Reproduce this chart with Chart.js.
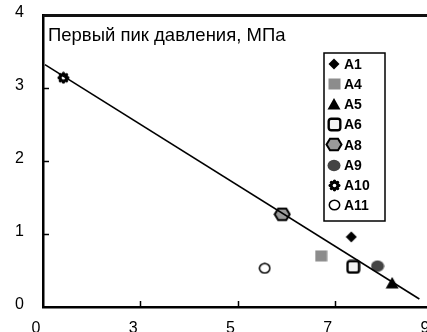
<!DOCTYPE html>
<html>
<head>
<meta charset="utf-8">
<script src="https://cdn.jsdelivr.net/npm/chart.js@4/dist/chart.umd.min.js"></script>
<style>
  html, body { margin: 0; padding: 0; background: #fff; overflow: hidden; }
</style>
</head>
<body>
<canvas id="chart" width="440" height="340"></canvas>
<script>
// data (x is in axis-position units, labels below)
const seriesNames = ['A1', 'A4', 'A5', 'A6', 'A8', 'A9', 'A10', 'A11'];
const seriesX = [3.17, 2.86, 3.59, 3.19, 2.46, 3.44, 0.21, 2.28];
const seriesY = [0.96, 0.70, 0.33, 0.55, 1.27, 0.56, 3.14, 0.53];
const trendX = [0.02, 3.87];
const trendY = [3.32, 0.11];
const xTickLabels = ['0', '3', '5', '7', '9'];
const yTickLabels = ['0', '1', '2', '3', '4'];
const chartTitle = 'Первый пик давления, МПа';

const FONT = "'Liberation Sans', Arial, sans-serif";

// little canvases used as point styles (and reused in the legend)
function marker(w, h, paint) {
  const c = document.createElement('canvas');
  c.width = w; c.height = h;
  const g = c.getContext('2d');
  paint(g, w / 2, h / 2);
  return c;
}

const markers = {
  A1: marker(12, 12, (g, x, y) => {
    g.fillStyle = '#000';
    g.beginPath();
    g.moveTo(x, y - 5.5); g.lineTo(x + 5.5, y); g.lineTo(x, y + 5.5); g.lineTo(x - 5.5, y);
    g.closePath(); g.fill();
  }),
  A4: marker(13, 12, (g, x, y) => {
    g.fillStyle = '#8c8c8c';
    g.fillRect(x - 6, y - 5.5, 12, 11);
  }),
  A5: marker(14, 12, (g, x, y) => {
    g.fillStyle = '#000';
    g.beginPath();
    g.moveTo(x, y - 6); g.lineTo(x + 6.5, y + 5.5); g.lineTo(x - 6.5, y + 5.5);
    g.closePath(); g.fill();
  }),
  A6: marker(15, 15, (g, x, y) => {
    g.fillStyle = '#f2f2f2';
    g.strokeStyle = '#000';
    g.lineWidth = 2.4;
    g.beginPath();
    g.roundRect(x - 5.8, y - 5.8, 11.6, 11.6, 2.5);
    g.fill(); g.stroke();
  }),
  A8: marker(18, 15, (g, x, y) => {
    g.fillStyle = '#9a9a9a';
    g.strokeStyle = '#000';
    g.lineWidth = 2;
    g.beginPath();
    g.moveTo(x - 7.5, y); g.lineTo(x - 4, y - 5.8); g.lineTo(x + 4, y - 5.8);
    g.lineTo(x + 7.5, y); g.lineTo(x + 4, y + 5.8); g.lineTo(x - 4, y + 5.8);
    g.closePath(); g.fill(); g.stroke();
  }),
  A9: marker(14, 13, (g, x, y) => {
    g.fillStyle = '#444';
    g.beginPath();
    g.ellipse(x, y, 6.5, 5.8, 0, 0, Math.PI * 2);
    g.fill();
  }),
  A10: marker(13, 13, (g, x, y) => {
    g.fillStyle = '#000';
    for (let i = 0; i < 8; i++) {
      const a = i * Math.PI / 4;
      g.beginPath();
      g.arc(x + Math.cos(a) * 4.3, y + Math.sin(a) * 4.3, 1.7, 0, Math.PI * 2);
      g.fill();
    }
    g.beginPath(); g.arc(x, y, 4.4, 0, Math.PI * 2); g.fill();
    g.fillStyle = '#fff';
    g.beginPath(); g.arc(x, y, 1.8, 0, Math.PI * 2); g.fill();
  }),
  A11: marker(13, 12, (g, x, y) => {
    g.fillStyle = '#fff';
    g.strokeStyle = '#000';
    g.lineWidth = 1.5;
    g.beginPath();
    g.ellipse(x, y, 5.2, 4.8, 0, 0, Math.PI * 2);
    g.fill(); g.stroke();
  })
};

const datasets = [{
  type: 'line',
  label: 'trend',
  data: trendX.map((x, i) => ({ x: x, y: trendY[i] })),
  borderColor: '#000',
  borderWidth: 1.6,
  pointRadius: 0,
  fill: false
}];
seriesNames.forEach((name, i) => {
  datasets.push({
    type: 'scatter',
    label: name,
    data: [{ x: seriesX[i], y: seriesY[i] }],
    pointStyle: markers[name],
    pointRadius: 6
  });
});

const framePlugin = {
  id: 'frame',
  afterDraw(chart) {
    const ctx = chart.ctx;
    const a = chart.chartArea;
    const xs = chart.scales.x, ys = chart.scales.y;
    ctx.save();
    // top border of the plot box
    ctx.strokeStyle = '#111';
    ctx.lineWidth = 2;
    ctx.beginPath();
    ctx.moveTo(a.left, a.top + 1); ctx.lineTo(a.right, a.top + 1);
    ctx.stroke();
    // inward tick marks
    ctx.strokeStyle = '#000';
    ctx.lineWidth = 1.5;
    for (let v = 1; v < yTickLabels.length - 1; v++) {
      const py = Math.round(ys.getPixelForValue(v)) + 0.5;
      ctx.beginPath(); ctx.moveTo(a.left, py); ctx.lineTo(a.left + 6, py); ctx.stroke();
    }
    for (let v = 1; v < xTickLabels.length - 1; v++) {
      const px = Math.round(xs.getPixelForValue(v)) + 0.5;
      ctx.beginPath(); ctx.moveTo(px, a.bottom); ctx.lineTo(px, a.bottom - 6); ctx.stroke();
    }
    // title inside the plot
    ctx.fillStyle = '#000';
    ctx.font = '18.5px ' + FONT;
    ctx.textBaseline = 'alphabetic';
    ctx.textAlign = 'left';
    ctx.fillText(chartTitle, a.left + 5, a.top + 26);
    // legend box
    const bx = 324, by = 53, bw = 61, bh = 168;
    ctx.fillStyle = '#fff';
    ctx.fillRect(bx, by, bw, bh);
    ctx.lineWidth = 1.5;
    ctx.strokeRect(bx, by, bw, bh);
    ctx.font = 'bold 14px ' + FONT;
    ctx.textBaseline = 'middle';
    ctx.fillStyle = '#000';
    seriesNames.forEach((name, i) => {
      const cy = by + 11 + i * 20.2;
      const m = markers[name];
      ctx.drawImage(m, Math.round(334 - m.width / 2), Math.round(cy - m.height / 2));
      ctx.fillText(name, 344, cy + 1);
    });
    ctx.restore();
  }
};

new Chart(document.getElementById('chart'), {
  data: { datasets: datasets },
  options: {
    responsive: false,
    animation: false,
    devicePixelRatio: 1,
    layout: { padding: { top: 15, right: 8, left: 0, bottom: 0 } },
    plugins: { legend: { display: false }, tooltip: { enabled: false } },
    scales: {
      x: {
        type: 'linear',
        min: 0,
        max: 4,
        grid: { display: false, drawTicks: false },
        border: { color: '#000', width: 2.5 },
        ticks: {
          stepSize: 1,
          color: '#000',
          font: { family: FONT, size: 16 },
          padding: 12,
          labelOffset: -7,
          maxRotation: 0,
          callback: v => xTickLabels[v]
        },
        afterFit: s => { s.height = 33; s.paddingLeft = 0; s.paddingRight = 0; }
      },
      xTop: {
        type: 'linear',
        position: 'top',
        min: 0,
        max: 4,
        grid: { display: false, drawTicks: false },
        border: { display: true, color: '#111', width: 2 },
        ticks: { display: false },
        afterFit: s => { s.height = 0; s.paddingLeft = 0; s.paddingRight = 0; }
      },
      y: {
        type: 'linear',
        min: 0,
        max: 4,
        grid: { display: false, drawTicks: false },
        border: { color: '#000', width: 2.5 },
        ticks: {
          stepSize: 1,
          color: '#000',
          font: { family: FONT, size: 16 },
          padding: 19,
          labelOffset: -2,
          callback: v => yTickLabels[v]
        },
        afterFit: s => { s.width = 43; s.paddingTop = 0; s.paddingBottom = 0; }
      }
    }
  },
  plugins: [framePlugin]
});
</script>
</body>
</html>
